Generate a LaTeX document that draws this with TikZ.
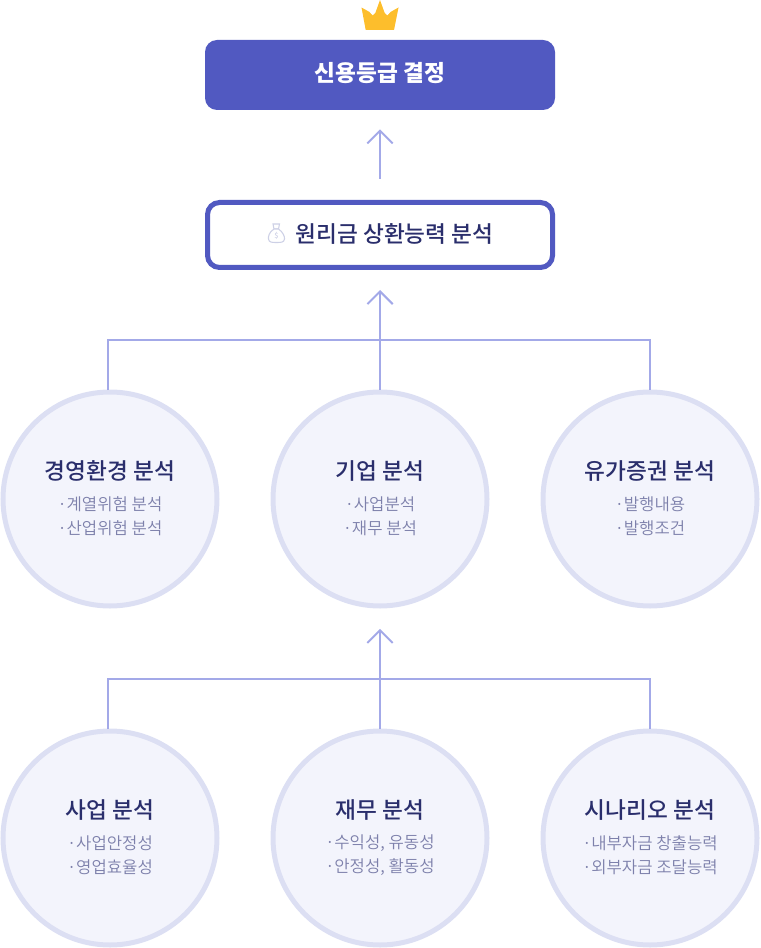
\documentclass[tikz,border=0pt]{standalone}
\usepackage{fontspec}
\usetikzlibrary{arrows.meta}
\setmainfont{Noto Sans CJK KR}
\newfontfamily\krmed{Noto Sans CJK KR Medium}
\newfontfamily\krbold{Noto Sans CJK KR Black}
\newfontfamily\krlight{Noto Sans CJK KR DemiLight}
\newcommand\bulletmark{·\kern-3pt\ }
\definecolor{brand}{HTML}{5159C1}
\definecolor{linec}{HTML}{A3A9E8}
\definecolor{ringc}{HTML}{DCDFF3}
\definecolor{fillc}{HTML}{F3F4FC}
\definecolor{titlec}{HTML}{2A2E6C}
\definecolor{subc}{HTML}{7D80AB}
\definecolor{crown}{HTML}{FDBE2C}
\definecolor{bagc}{HTML}{CDD0E6}
\tikzset{
  x=0.75pt,y=-0.75pt,
  topbox/.style={draw=none,fill=brand,rounded corners=9pt,minimum width=262.5pt,minimum height=52.5pt,inner sep=0pt,text=white},
  midbox/.style={draw=brand,fill=white,line width=3.75pt,rounded corners=9pt,minimum width=258.75pt,minimum height=48.75pt,inner sep=0pt},
  disc/.style={circle,draw=ringc,fill=fillc,line width=3.75pt,minimum size=160.5pt,inner sep=0pt},
  ctitle/.style={text=titlec,font=\krmed\fontsize{17}{20}\selectfont,inner sep=0pt,anchor=center},
  csub/.style={text=subc,font=\krlight\fontsize{12.5}{14}\selectfont,inner sep=0pt,anchor=center},
  flow/.style={draw=linec,line width=1.5pt,-{Straight Barb[length=9.5pt,width=19pt,line width=1.5pt]}},
  bus/.style={draw=linec,line width=1.5pt},
  bag/.style={draw=bagc,line width=0.8pt,fill=white},
}
\begin{document}
\begin{tikzpicture}
\path[use as bounding box] (0,0) rectangle (760,948);

% crown
\fill[crown] (361.5,7.5) -- (369.5,12) -- (372.7,15.5) -- (375.5,12.5) -- (380,0) -- (384.5,12.5) -- (387.3,15.5) -- (390.5,12) -- (398.5,7.5) -- (394,30) -- (365.7,30) -- cycle;
\fill[white] (372.7,12.5) circle (2) (387.3,12.5) circle (2);

% boxes
\node[topbox] (decision) at (380,75) {};
\node[text=white,font=\krbold\fontsize{17}{20}\selectfont,inner sep=0pt] (decisionlabel) at (380,73) {신용등급 결정};
\node[midbox] (repay) at (380,235) {};
\node[text=titlec,font=\krmed\fontsize{17}{20}\selectfont,inner sep=0pt] (repaylabel) at (394.5,233.5) {원리금 상환능력 분석};

% money bag
\draw[bag] (273,224) -- (279.5,224) -- (278.5,229) -- (274,229) -- cycle;
\draw[bag] (274,229) .. controls (269,232) and (268,237) .. (268.5,239)
  .. controls (269,242.5) and (272,242.5) .. (276.5,242.5)
  .. controls (281,242.5) and (284,242.5) .. (284.5,239)
  .. controls (285,237) and (283,232) .. (278.5,229) -- cycle;
\node[text=bagc,font=\krmed\fontsize{5.5}{6}\selectfont,inner sep=0pt] (baglabel) at (276.5,236) {\$};

% circles
\node[disc] (c1) at (110,499) {};
\node[disc] (c2) at (380,499) {};
\node[disc] (c3) at (650,499) {};
\node[disc] (c4) at (110,838) {};
\node[disc] (c5) at (380,838) {};
\node[disc] (c6) at (650,838) {};

\node[ctitle] (t1) at (110,471) {경영환경 분석};
\node[csub] (s1a) at (110,504) {\bulletmark 계열위험 분석};
\node[csub] (s1b) at (110,528) {\bulletmark 산업위험 분석};
\node[ctitle] (t2) at (380,471) {기업 분석};
\node[csub] (s2a) at (380,504) {\bulletmark 사업분석};
\node[csub] (s2b) at (380,528) {\bulletmark 재무 분석};
\node[ctitle] (t3) at (650,471) {유가증권 분석};
\node[csub] (s3a) at (650,504) {\bulletmark 발행내용};
\node[csub] (s3b) at (650,528) {\bulletmark 발행조건};
\node[ctitle] (t4) at (110,810) {사업 분석};
\node[csub] (s4a) at (110,843) {\bulletmark 사업안정성};
\node[csub] (s4b) at (110,867) {\bulletmark 영업효율성};
\node[ctitle] (t5) at (380,810) {재무 분석};
\node[csub] (s5a) at (380,843) {\bulletmark 수익성, 유동성};
\node[csub] (s5b) at (380,867) {\bulletmark 안정성, 활동성};
\node[ctitle] (t6) at (650,810) {시나리오 분석};
\node[csub] (s6a) at (650,843) {\bulletmark 내부자금 창출능력};
\node[csub] (s6b) at (650,867) {\bulletmark 외부자금 조달능력};

% connectors
\coordinate (bus1l) at (108,340);
\coordinate (bus1r) at (650,340);
\coordinate (bus2l) at (108,679);
\coordinate (bus2r) at (650,679);
\coordinate (drop1) at (108,390);
\coordinate (drop2) at (108,729);
\draw[flow,shorten <=15.75pt,shorten >=14.25pt] (repay.north) -- (decision.south);
\draw[flow,shorten >=15pt] (c2.north) -- (repay.south);
\draw[flow,shorten >=15.25pt] (c5.north) -- (c2.south);
\draw[bus] (drop1) -- (bus1l) -- (bus1r) -- (c3.north);
\draw[bus] (drop2) -- (bus2l) -- (bus2r) -- (c6.north);
\end{tikzpicture}
\end{document}
